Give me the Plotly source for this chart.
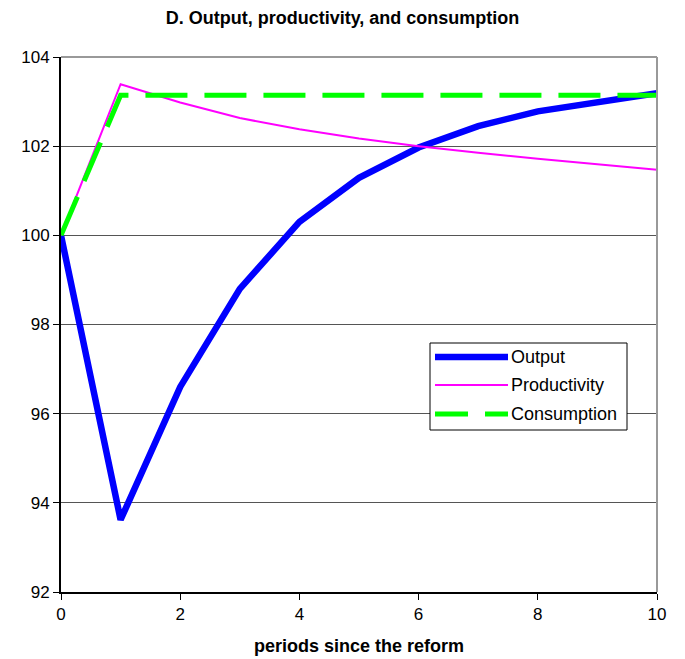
import plotly.graph_objects as go

# Periods after the reform and the three simulated paths (index, period 0 = 100)
periods = [0, 1, 2, 3, 4, 5, 6, 7, 8, 9, 10]
output = [100.0, 93.62, 96.6, 98.8, 100.3, 101.29, 101.97, 102.45, 102.78, 103.0, 103.19]
productivity = [100.0, 103.39, 102.98, 102.63, 102.38, 102.17, 102.0, 101.85, 101.72, 101.59, 101.47]
consumption = [100.0, 103.14, 103.14, 103.14, 103.14, 103.14, 103.14, 103.14, 103.14, 103.14, 103.14]

series_names = ["Output", "Productivity", "Consumption"]
series_colors = ["#0000FF", "#FF00FF", "#00FF00"]
series_widths = [6.5, 2, 5]
series_dash = ["solid", "solid", "42px,17px"]

y_ticks = [92, 94, 96, 98, 100, 102, 104]
x_ticks = [0, 2, 4, 6, 8, 10]

FONT = "Liberation Sans, Arial, sans-serif"

fig = go.Figure()
for name, ys, col, w, d in zip(series_names, [output, productivity, consumption],
                               series_colors, series_widths, series_dash):
    fig.add_trace(go.Scatter(
        x=periods, y=ys, mode="lines", name=name,
        line=dict(color=col, width=w, dash=d), showlegend=False,
    ))

# Gray frame on top and right edges of the plot area
fig.add_shape(type="line", xref="paper", yref="paper", x0=0, x1=1, y0=1, y1=1,
              line=dict(color="#999999", width=2))
fig.add_shape(type="line", xref="paper", yref="paper", x0=1, x1=1, y0=0, y1=1,
              line=dict(color="#999999", width=2))

# Boxed legend inside the plot area
PW, PH, L, T = 596.0, 535.0, 61.0, 57.0
def px(x):
    return (x - L) / PW
def py(y):
    return 1 - (y - T) / PH

fig.add_shape(type="rect", xref="paper", yref="paper",
              x0=px(430), x1=px(627), y0=py(430), y1=py(343),
              fillcolor="white", line=dict(color="black", width=1), layer="above")
legend_rows = [357, 385, 414]
legend_dash = ["solid", "solid", "33px,17px"]
for name, col, w, d, yrow in zip(series_names, series_colors, series_widths, legend_dash, legend_rows):
    fig.add_shape(type="line", xref="paper", yref="paper",
                  x0=px(435), x1=px(508), y0=py(yrow), y1=py(yrow),
                  line=dict(color=col, width=w, dash=d), layer="above")
    fig.add_annotation(x=px(509), y=py(yrow), xref="paper", yref="paper",
                       text=name, showarrow=False, xanchor="left", yanchor="middle",
                       font=dict(family=FONT, size=18, color="black"))

# x-axis title placed below the tick labels
fig.add_annotation(x=0.5, y=py(646), xref="paper", yref="paper",
                   text="<b>periods since the reform</b>", showarrow=False,
                   xanchor="center", yanchor="middle",
                   font=dict(family=FONT, size=18, color="black"))

fig.update_layout(
    width=685, height=659,
    margin=dict(l=61, r=28, t=57, b=67),
    paper_bgcolor="white", plot_bgcolor="white",
    title=dict(text="<b>D. Output, productivity, and consumption</b>",
               x=0.5, xref="container", xanchor="center",
               y=1 - 18 / 659, yref="container", yanchor="middle",
               font=dict(family=FONT, size=18, color="black")),
    font=dict(family=FONT, size=17, color="black"),
    xaxis=dict(range=[0, 10], tickvals=x_ticks, ticks="outside", ticklen=6,
               tickcolor="black", showline=True, linecolor="black", linewidth=2,
               showgrid=False, zeroline=False, automargin=False,
               tickfont=dict(family=FONT, size=17, color="black")),
    yaxis=dict(range=[92, 104], tickvals=y_ticks, ticks="outside", ticklen=6,
               tickcolor="black", showline=True, linecolor="black", linewidth=2,
               showgrid=True, gridcolor="#555555", gridwidth=1, zeroline=False,
               automargin=False,
               tickfont=dict(family=FONT, size=17, color="black")),
)

fig.write_html("out.html")
